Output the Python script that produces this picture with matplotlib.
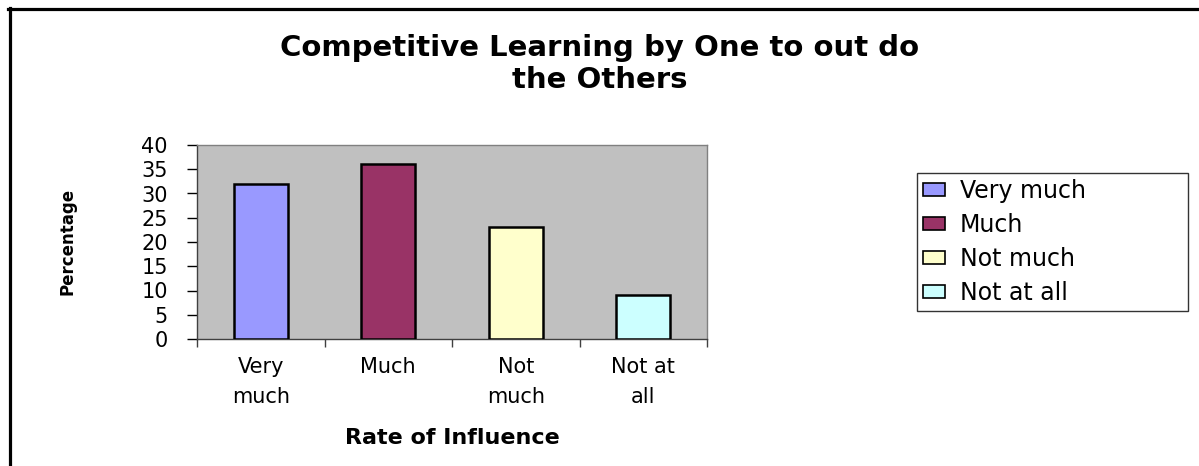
import matplotlib
matplotlib.use('Agg')
import matplotlib.pyplot as plt
from matplotlib.lines import Line2D
from matplotlib.patches import Patch

# Data
categories = ['Very\nmuch', 'Much', 'Not\nmuch', 'Not at\nall']
legend_labels = ['Very much', 'Much', 'Not much', 'Not at all']
percentages = [32, 36, 23, 9]
bar_colors = ['#9999FF', '#993366', '#FFFFCC', '#CCFFFF']
y_ticks = [0, 5, 10, 15, 20, 25, 30, 35, 40]

plt.rcParams['font.family'] = 'DejaVu Sans'

fig = plt.figure(figsize=(11.99, 4.66), dpi=100)
fig.patch.set_facecolor('white')

# plot area in figure fractions
ax = fig.add_axes([197 / 1199, 127 / 466, 510 / 1199, 194 / 466])
ax.set_facecolor('#C0C0C0')

x = list(range(len(categories)))
ax.bar(x, percentages, width=0.42, color=bar_colors,
       edgecolor='black', linewidth=1.8, zorder=3)

ax.set_xlim(-0.5, len(categories) - 0.5)
ax.set_ylim(0, 40)

# y axis
ax.set_yticks(y_ticks)
ax.tick_params(axis='y', direction='out', length=7, width=1,
               labelsize=15, pad=14, colors='black')

# x axis: ticks on the category boundaries, labels at the centres
ax.set_xticks([i - 0.5 for i in range(len(categories) + 1)])
ax.set_xticklabels([])
ax.set_xticks(x, minor=True)
ax.set_xticklabels(categories, minor=True, fontsize=15, linespacing=1.6)
ax.tick_params(axis='x', which='major', direction='out', length=6,
               width=1, color='#404040')
ax.tick_params(axis='x', which='minor', length=0, pad=13)

for side in ['top', 'right']:
    ax.spines[side].set_color('#808080')
    ax.spines[side].set_linewidth(1)
for side in ['left', 'bottom']:
    ax.spines[side].set_color('#404040')
    ax.spines[side].set_linewidth(1)

ax.set_xlabel('Rate of Influence', fontsize=16, fontweight='bold')
ax.xaxis.set_label_coords(0.5, -0.46)
ax.xaxis.label.set_va('top')

fig.text(68 / 1199, 1 - 241 / 466, 'Percentage', rotation=90,
         fontsize=12, fontweight='bold', ha='center', va='center')

# title
fig.text(0.5, 1 - 64 / 466, 'Competitive Learning by One to out do\nthe Others',
         fontsize=21, fontweight='bold', ha='center', va='center',
         linespacing=1.2)

# legend
handles = [Patch(facecolor=c, edgecolor='black', linewidth=1.2)
           for c in bar_colors]
leg = fig.legend(handles, legend_labels, loc='upper left',
                 bbox_to_anchor=(917 / 1199, 1 - 173 / 466, 271 / 1199, 0),
                 mode='expand', fontsize=17, frameon=True, fancybox=False,
                 handlelength=0.95, handleheight=0.45, handletextpad=0.6,
                 labelspacing=0.42, borderpad=0.25, borderaxespad=0)
leg.get_frame().set_edgecolor('black')
leg.get_frame().set_linewidth(1)

# outer chart frame (left and top edges only)
fig.add_artist(Line2D([9.5 / 1199, 9.5 / 1199], [0, 1 - 8 / 466],
                      transform=fig.transFigure, color='black', linewidth=2.3))
fig.add_artist(Line2D([8 / 1199, 1], [1 - 9 / 466, 1 - 9 / 466],
                      transform=fig.transFigure, color='black', linewidth=2.3))

plt.savefig('out.png', dpi=100)
